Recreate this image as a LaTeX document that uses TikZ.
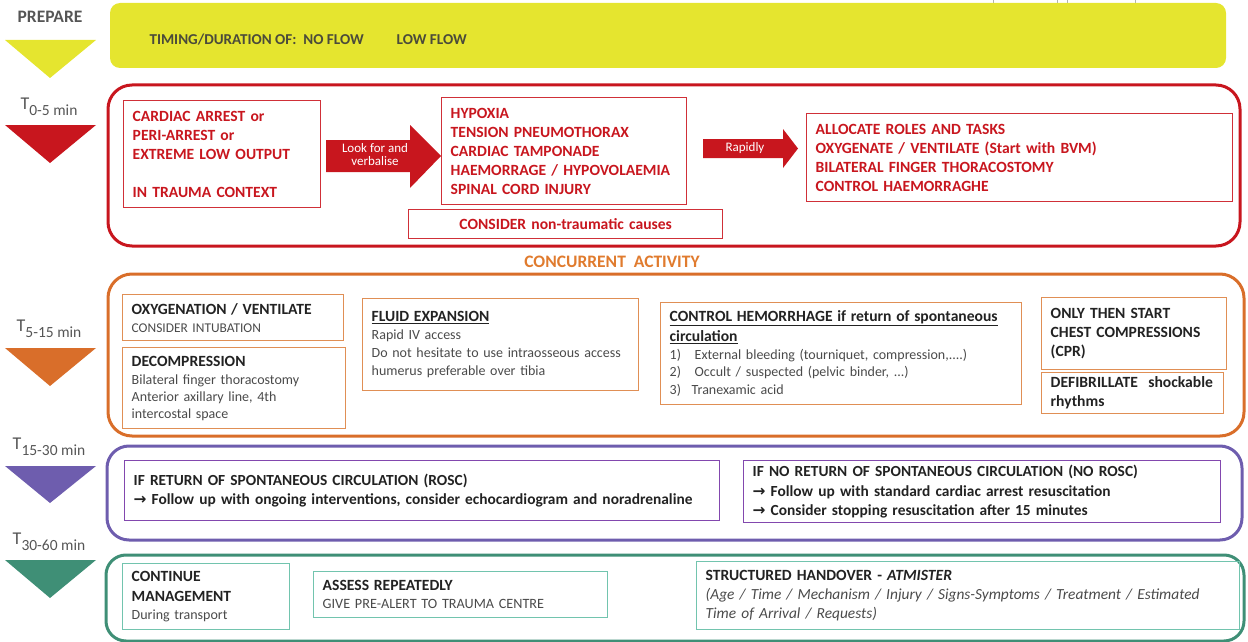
\documentclass[tikz,border=0pt]{standalone}
\usepackage{fontspec}
\setmainfont{Carlito}
\newfontfamily\symfont{DejaVu Sans}
\usetikzlibrary{calc}

\definecolor{yel}{HTML}{E5E52F}
\definecolor{redc}{HTML}{C8161E}
\definecolor{redbox}{HTML}{D03038}
\definecolor{orgframe}{HTML}{D96E2A}
\definecolor{orgbox}{HTML}{E08F55}
\definecolor{orgtext}{HTML}{E07B2E}
\definecolor{purframe}{HTML}{6E5DAE}
\definecolor{purbox}{HTML}{8248AE}
\definecolor{grnframe}{HTML}{3F8F76}
\definecolor{grnbox}{HTML}{72C4AE}
\definecolor{tgray}{HTML}{555555}
\definecolor{ink}{HTML}{222222}
\definecolor{soft}{HTML}{4A4A4A}
\definecolor{olive}{HTML}{4B4B3A}

\newcommand\fs[2]{\fontsize{#1}{#2}\selectfont}
\newcommand\rarr{{\symfont\bfseries →}}
\newcommand\tlab[1]{T\raisebox{-0.36em}{\fs{15.5}{15.5}#1}}

\tikzset{
  frame/.style={draw=#1, line width=3pt, rounded corners=24pt},
  box/.style={draw=#1, line width=1.4pt, anchor=north west, align=left,
              inner xsep=9pt, inner ysep=2pt},
  tlabel/.style={text=tgray, font=\fs{18}{18}},
  arrowtxt/.style={text=white, align=center, font=\fs{13}{13}},
  redtxt/.style={text=redc, font=\bfseries\fs{15.6}{19}},
  head/.style={text=ink, font=\bfseries\fs{15.6}{19}},
}

\begin{document}
\begin{tikzpicture}[x=1pt,y=-1pt]
\useasboundingbox (0,0) rectangle (1248,642);

% small grey tabs peeking above the top bar
\draw[gray!60, line width=0.8pt] (993,0) -- (993,3) -- (1057,3) -- (1057,0);
\draw[gray!60, line width=0.8pt] (1067,0) -- (1067,3) -- (1135,3) -- (1135,0);

% ---------- PREPARE ----------
\node[text=tgray, font=\bfseries\fs{17.5}{17.5}] (prep) at (50,17) {PREPARE};
\fill[yel] (5,40) -- (96,40) -- (50,78) -- cycle;
\fill[yel, rounded corners=10pt] (110,3) rectangle (1226,68);
\node[anchor=west, text=olive, font=\bfseries\fs{15.1}{15}] (timing) at (146,40)
  {TIMING/DURATION OF:\ \ NO FLOW\hspace{33pt}LOW FLOW};

% ---------- T 0-5 ----------
\node[tlabel] (t1) at (49,107) {\tlab{0-5 min}};
\fill[redc] (5,125) -- (96,125) -- (50,163) -- cycle;
\draw[frame=redc] (108,85) rectangle (1240,246);

\node[box=redbox, redtxt, minimum width=197pt, minimum height=107pt, text width=179pt]
  (b1) at (123,100) {CARDIAC ARREST or\\PERI-ARREST or\\EXTREME LOW OUTPUT\\[19pt]IN TRAUMA CONTEXT};
\node[box=redbox, redtxt, minimum width=245pt, minimum height=107pt, text width=227pt]
  (b2) at (441,97) {HYPOXIA\\TENSION PNEUMOTHORAX\\CARDIAC TAMPONADE\\HAEMORRAGE / HYPOVOLAEMIA\\SPINAL CORD INJURY};
\node[box=redbox, text=redc, font=\bfseries\fs{15.6}{16}, align=center, anchor=north west,
      minimum width=314pt, minimum height=29pt, text width=296pt]
  (b3) at (408,209) {CONSIDER non-traumatic causes};
\node[box=redbox, redtxt, minimum width=426pt, minimum height=88pt, text width=408pt]
  (b4) at (806,113) {ALLOCATE ROLES AND TASKS\\OXYGENATE / VENTILATE (Start with BVM)\\BILATERAL\ FINGER THORACOSTOMY\\CONTROL HAEMORRAGHE};

% block arrows between the red boxes
\fill[redc] (326,140) -- (410,140) -- (410,125) -- (441,156) -- (410,188) -- (410,172) -- (326,172) -- cycle;
\node[arrowtxt] (a1) at (375,155) {Look for and\\verbalise};
\fill[redc] (703,139) -- (783,139) -- (783,129) -- (798,148.5) -- (783,168) -- (783,158) -- (703,158) -- cycle;
\node[arrowtxt] (a2) at (745,148) {Rapidly};

% ---------- concurrent activity ----------
\node[text=orgtext, font=\bfseries\fs{17.5}{17.5}] (conc) at (612,262) {CONCURRENT\ \ ACTIVITY};

% ---------- T 5-15 ----------
\node[tlabel] (t2) at (49,329) {\tlab{5-15 min}};
\fill[orgframe] (5,348) -- (96,348) -- (50,386) -- cycle;
\draw[frame=orgframe] (108,274) rectangle (1244,436);

\node[box=orgbox, text=soft, font=\fs{14}{18}, minimum width=221pt, minimum height=46pt, text width=203pt]
  (o1) at (122,294) {{\color{ink}\bfseries\fs{15.6}{18}OXYGENATION / VENTILATE}\\
  {\fs{13.4}{18}CONSIDER INTUBATION}};
\node[box=orgbox, minimum width=223pt, minimum height=81pt, text width=205pt, text=soft, font=\fs{14}{17}]
  (o2) at (122,347) {{\color{ink}\bfseries\fs{15.6}{18}DECOMPRESSION}\\[1pt]Bilateral finger thoracostomy\\Anterior axillary line, 4th\\intercostal space};
\node[box=orgbox, minimum width=276pt, minimum height=92pt, text width=258pt, text=soft, font=\fs{14}{18}]
  (o3) at (362,298) {{\color{ink}\bfseries\fs{15.6}{18}\underline{FLUID EXPANSION}}\\Rapid IV access\\Do not hesitate to use intraosseous access\\humerus\ preferable\ over tibia\\[6pt]};
\node[box=orgbox, minimum width=361pt, minimum height=102pt, text width=343pt, text=soft, font=\fs{14}{17.7}]
  (o4) at (660,302) {{\color{ink}\bfseries\fs{15.6}{19.5}\underline{CONTROL HEMORRHAGE if return of spontaneous}\\[2pt]\underline{circulation}}\\
  \makebox[25pt][l]{1)}External bleeding (tourniquet, compression,....)\\
  \makebox[25pt][l]{2)}Occult / suspected (pelvic binder, ...)\\
  \makebox[22pt][l]{3)}Tranexamic acid};
\node[box=orgbox, head, minimum width=185pt, minimum height=72pt, text width=167pt]
  (o5) at (1041,297) {ONLY THEN START\\CHEST COMPRESSIONS\\(CPR)};
\node[box=orgbox, head, minimum width=182pt, minimum height=41pt, text width=164pt]
  (o6) at (1041,372) {DEFIBRILLATE\ \ shockable\\rhythms};

% ---------- T 15-30 ----------
\node[tlabel] (t3) at (49,447) {\tlab{15-30 min}};
\fill[purframe] (5,466) -- (96,466) -- (50,503) -- cycle;
\draw[frame=purframe, rounded corners=22pt] (107,446) rectangle (1242,540);

\node[box=purbox, head, font=\bfseries\fs{15.4}{19}, minimum width=595pt, minimum height=60pt, text width=577pt]
  (p1) at (124,460) {IF RETURN OF SPONTANEOUS CIRCULATION (ROSC)\\
  \rarr\ Follow up with ongoing interventions, consider echocardiogram and noradrenaline};
\node[box=purbox, head, font=\bfseries\fs{15.4}{19.5}, minimum width=477pt, minimum height=62pt, text width=459pt]
  (p2) at (743,460) {IF NO RETURN\ OF SPONTANEOUS CIRCULATION (NO ROSC)\\
  \rarr\ Follow up with standard cardiac arrest resuscitation\\
  \rarr\ Consider stopping resuscitation after 15 minutes};

% ---------- T 30-60 ----------
\node[tlabel] (t4) at (49,542) {\tlab{30-60 min}};
\fill[grnframe] (5,560) -- (96,560) -- (50,598) -- cycle;
\draw[frame=grnframe, rounded corners=20pt] (106,555) rectangle (1244,641);

\node[box=grnbox, text=soft, font=\fs{14}{18}, minimum width=167pt, minimum height=66pt, text width=149pt]
  (g1) at (122,563) {{\color{ink}\bfseries\fs{15.6}{20}CONTINUE\\[2pt]MANAGEMENT}\\During transport};
\node[box=grnbox, text=soft, font=\fs{14.2}{18}, minimum width=294pt, minimum height=46pt, text width=276pt]
  (g2) at (313,571) {{\color{ink}\bfseries\fs{15.6}{18}ASSESS REPEATEDLY}\\GIVE PRE-ALERT TO TRAUMA CENTRE};
\node[box=grnbox, text=soft, font=\itshape\fs{15.4}{19}, minimum width=543pt, minimum height=68pt, text width=525pt]
  (g3) at (696,561) {{\color{ink}\upshape\bfseries\fs{15.6}{19}STRUCTURED HANDOVER - \itshape ATMISTER}\\
  (Age / Time / Mechanism / Injury / Signs-Symptoms / Treatment / Estimated\\Time of Arrival / Requests)};

\end{tikzpicture}
\end{document}
